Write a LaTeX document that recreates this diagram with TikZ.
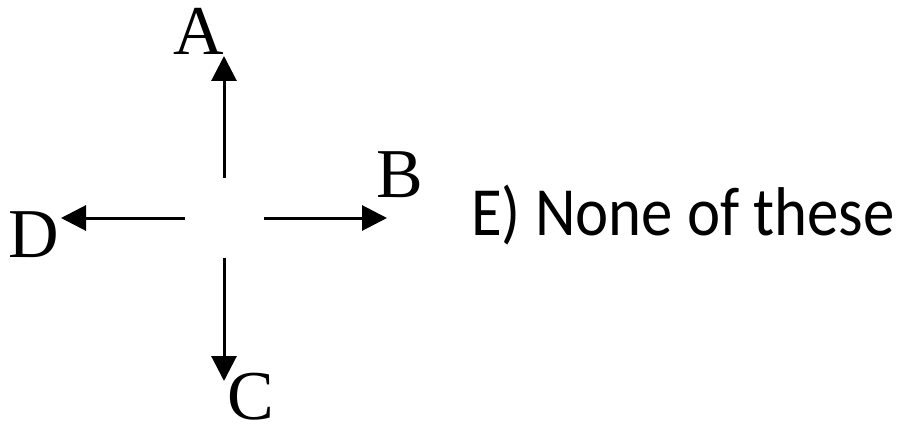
\documentclass[tikz,border=0pt]{standalone}
\usepackage{fontspec}
\setmainfont{Liberation Serif}
\newfontfamily\calib{Carlito}
\usetikzlibrary{arrows.meta}
\tikzset{
  dirarrow/.style={line width=3pt,-{Triangle[width=25pt,length=25pt]}},
  letter/.style={inner sep=0pt,anchor=base,font=\fontsize{70}{70}\selectfont},
  answer/.style={inner sep=0pt,anchor=base west,font=\calib\fontsize{69}{69}\selectfont}
}
\begin{document}
\begin{tikzpicture}[x=1pt,y=-1pt]
\useasboundingbox (0,0) rectangle (905,425);
\coordinate (upS) at (224,178);
\coordinate (upE) at (224,56);
\coordinate (rtS) at (264,218);
\coordinate (rtE) at (387,218);
\coordinate (lfS) at (185,218);
\coordinate (lfE) at (61,218);
\coordinate (dnS) at (224,258);
\coordinate (dnE) at (224,381);
\draw[dirarrow] (upS) -- (upE);
\draw[dirarrow] (rtS) -- (rtE);
\draw[dirarrow] (lfS) -- (lfE);
\draw[dirarrow] (dnS) -- (dnE);
\node[letter] (A) at (199,55) {A};
\node[letter] (B) at (400,197) {B};
\node[letter] (D) at (34,257) {D};
\node[letter] (C) at (251,419) {C};
\node[answer] (E) at (471,235) {\scalebox{0.91}[1]{E) None of these}};
\end{tikzpicture}
\end{document}
